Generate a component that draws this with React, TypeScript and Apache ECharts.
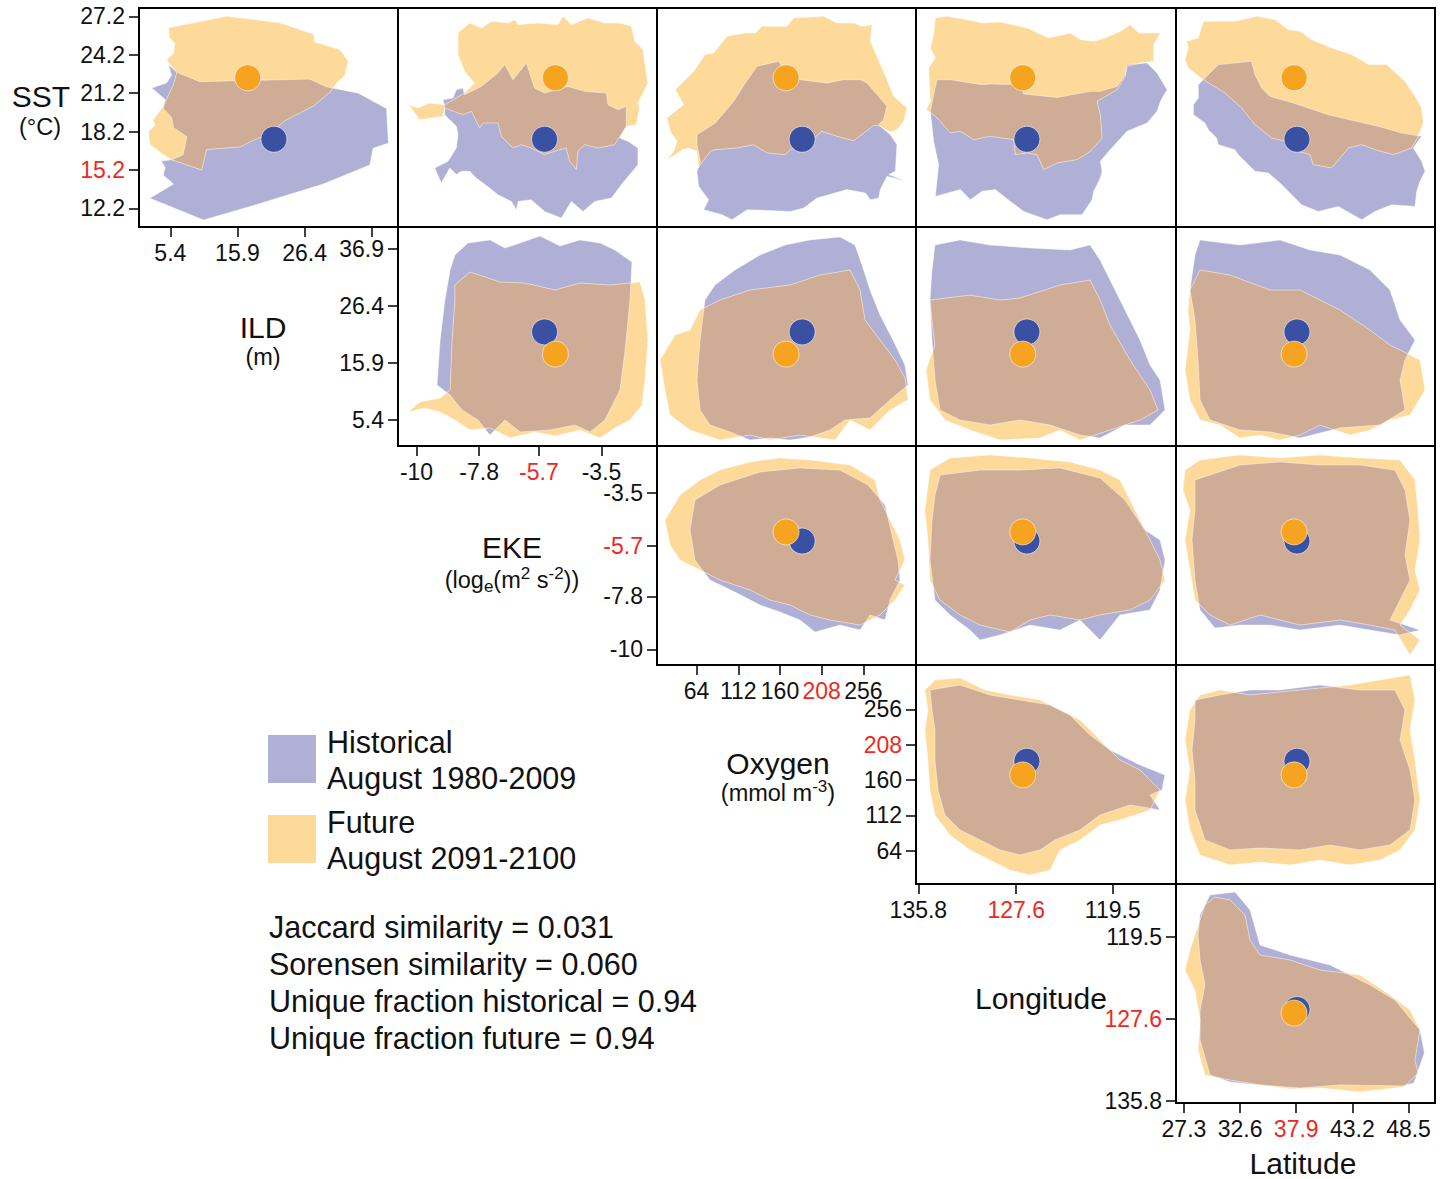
import React, { useEffect, useRef } from 'react';
import * as echarts from 'echarts';

type Pt = [number, number];

// ---------- variables (index: 0 SST, 1 ILD, 2 EKE, 3 Oxygen, 4 Longitude, 5 Latitude)
const VAR_NAMES = ['SST', 'ILD', 'EKE', 'Oxygen', 'Longitude', 'Latitude'];
const VAR_MIN = [10.75, 0.5, -10.65, 18.5, 114.2, 26.55];
const VAR_MAX = [27.85, 41.0, -1.55, 316.5, 136.0, 51.0];
const VAR_INVERSE = [false, false, false, false, true, false];

const sstTicks = [12.2, 15.2, 18.2, 21.2, 24.2, 27.2];
const ildTicks = [5.4, 15.9, 26.4, 36.9];
const ekeTicks = [-10, -7.8, -5.7, -3.5];
const oxyTicks = [64, 112, 160, 208, 256];
const lonTicks = [135.8, 127.6, 119.5];
const latTicks = [27.3, 32.6, 37.9, 43.2, 48.5];
const TICKS = [sstTicks, ildTicks, ekeTicks, oxyTicks, lonTicks, latTicks];
const ildXLabels = [5.4, 15.9, 26.4];
const X_LABELS = [sstTicks, ildXLabels, ekeTicks, oxyTicks, lonTicks, latTicks];
const Y_LABELS = TICKS;
const RED_TICKS: number[][] = [[15.2], [], [-5.7], [208], [127.6], [37.9]];

// centroids
const HIST_MEAN = [17.6, 21.6, -5.5, 185.5, 126.7, 37.97];
const FUT_MEAN = [22.4, 17.5, -5.12, 167.0, 127.05, 37.7];

// ---------- niche polygons, [x variable, y variable]
// row SST
const histSST_ILD: Pt[] = [[5.1,23.4],[6.6,22.8],[10.0,22.1],[27.2,22.3],[29.8,21.7],[34.8,21.2],[39.2,20.0],[39.5,17.3],[37.1,16.9],[36.6,15.6],[29.3,14.1],[18.9,12.5],[10.6,11.3],[2.2,13.0],[5.9,14.1],[4.3,14.8],[4.6,15.4],[4.0,15.9],[5.6,16.0],[7.4,16.4],[8.0,17.8],[5.9,18.5],[5.6,19.3],[4.3,20.0],[4.6,20.7],[2.5,21.6],[4.8,22.0],[5.6,22.6]];
const futSST_ILD: Pt[] = [[5.1,26.3],[14.2,27.2],[22.5,26.7],[27.8,25.8],[28.0,25.2],[31.9,24.6],[33.2,23.7],[32.7,22.6],[31.4,22.0],[30.4,21.3],[27.8,20.2],[23.1,19.0],[21.5,18.2],[17.9,17.4],[16.3,17.0],[11.1,16.8],[10.3,15.2],[5.6,16.0],[4.3,16.4],[2.2,17.2],[2.0,18.2],[3.0,18.7],[2.7,19.1],[4.3,20.2],[4.8,20.7],[5.9,21.9],[6.4,22.8],[5.1,23.6],[4.8,23.8],[5.9,24.3],[6.1,25.1],[5.3,25.5]];

const histSST_EKE: Pt[] = [[-9.07,20.69],[-8.72,20.82],[-8.6,21.47],[-8.37,21.6],[-8.31,21.08],[-7.72,21.73],[-7.14,22.77],[-6.9,23.43],[-6.61,22.25],[-6.14,23.56],[-5.85,21.6],[-5.5,21.21],[-4.68,21.73],[-4.09,21.34],[-3.33,21.21],[-3.27,20.3],[-2.92,19.91],[-2.63,20.17],[-2.63,18.61],[-2.86,17.7],[-2.57,17.44],[-2.22,16.92],[-2.22,15.62],[-2.8,14.06],[-3.15,13.01],[-3.74,12.75],[-4.15,11.97],[-4.56,12.75],[-4.91,11.45],[-5.5,11.97],[-5.97,12.88],[-6.43,12.75],[-6.49,12.1],[-6.67,12.75],[-7.14,13.27],[-7.43,13.79],[-7.9,14.58],[-8.13,15.1],[-8.43,15.1],[-8.6,14.84],[-8.83,15.36],[-9.13,14.19],[-9.36,15.36],[-8.89,15.88],[-8.6,16.92],[-8.54,17.96],[-8.6,18.61],[-9.01,19.52],[-9.01,20.17]];
const futSST_EKE: Pt[] = [[-8.54,25.9],[-8.13,26.68],[-7.72,26.29],[-7.37,26.81],[-6.78,26.68],[-6.55,26.94],[-6.43,26.55],[-5.73,26.68],[-5.03,26.55],[-4.85,27.2],[-4.56,26.55],[-3.97,27.07],[-3.39,26.68],[-2.86,26.68],[-2.45,26.42],[-2.33,25.25],[-2.04,24.6],[-1.98,23.56],[-1.87,21.99],[-2.22,20.43],[-2.16,20.04],[-2.28,18.74],[-2.63,18.61],[-3.04,17.18],[-3.62,16.92],[-4.09,17.18],[-4.33,16.66],[-4.38,15.23],[-4.62,15.88],[-4.74,16.92],[-5.15,16.66],[-5.5,16.4],[-5.97,16.92],[-6.32,17.18],[-6.61,16.92],[-6.78,17.31],[-7.02,17.83],[-7.14,18.87],[-7.66,18.87],[-7.78,18.48],[-8.07,19.78],[-8.37,19.52],[-9.01,20.04],[-9.07,19.39],[-9.48,19.26],[-9.89,19.13],[-10.18,20.04],[-10.3,20.3],[-9.95,20.04],[-9.54,20.43],[-9.01,20.3],[-8.31,21.21],[-7.96,21.99],[-8.31,22.9],[-8.54,24.21]];

const histSST_Oxy: Pt[] = [[64.5,17.96],[85.6,18.87],[106.7,20.56],[120.1,21.99],[133.6,23.3],[158.5,23.69],[166.2,22.77],[183.4,22.25],[214.1,21.99],[233.3,22.25],[252.4,22.25],[260.1,21.99],[273.5,20.95],[283.1,20.17],[279.3,19.13],[273.5,18.74],[287.0,17.96],[294.6,17.18],[292.7,15.1],[285.1,14.84],[304.2,14.32],[283.1,14.71],[275.5,13.67],[273.5,13.01],[264.0,12.88],[258.2,13.4],[237.1,13.67],[202.6,13.01],[187.3,12.23],[171.9,11.97],[122.1,12.1],[104.8,11.32],[93.3,11.71],[72.2,12.1],[77.9,12.88],[66.4,13.93],[64.5,15.1],[68.4,15.88],[64.5,17.18]];
const futSST_Oxy: Pt[] = [[30.0,19.26],[49.2,20.3],[39.6,21.47],[60.7,22.9],[74.1,24.21],[83.7,24.34],[99.0,25.64],[120.1,25.9],[131.6,25.9],[139.3,26.42],[168.1,26.42],[175.7,27.07],[210.3,27.2],[225.6,26.68],[244.8,26.68],[254.4,26.42],[265.9,26.55],[264.0,25.25],[271.6,24.08],[283.1,22.25],[290.8,20.95],[306.1,20.04],[302.3,19.0],[294.6,18.35],[287.0,18.17],[275.5,18.61],[267.8,18.69],[244.8,17.49],[225.6,17.83],[208.3,18.22],[194.9,17.44],[171.9,16.79],[166.2,16.4],[145.1,16.53],[129.7,17.18],[110.5,16.92],[85.6,16.79],[79.9,16.66],[68.4,15.62],[66.4,15.36],[64.5,16.66],[54.9,16.92],[47.3,16.79],[39.6,16.4],[30.0,16.01],[37.7,16.66],[41.5,17.44],[33.8,18.22]];

const histSST_Lon: Pt[] = [[134.24,22.25],[133.12,22.25],[130.46,21.86],[129.77,21.92],[127.25,21.86],[126.97,21.14],[124.18,20.87],[121.38,21.34],[120.54,21.34],[119.14,21.73],[118.45,22.64],[118.31,23.43],[116.63,23.56],[115.79,22.77],[114.95,21.47],[115.51,20.56],[115.79,19.78],[116.63,18.87],[118.31,18.22],[119.84,16.66],[120.54,15.88],[120.4,15.1],[120.54,14.58],[121.1,13.54],[121.24,12.88],[122.08,11.71],[123.9,11.71],[125.01,11.32],[126.97,11.97],[128.09,12.75],[129.35,13.67],[130.46,13.54],[131.44,12.88],[132.28,13.67],[134.38,13.14],[134.1,15.62],[134.52,17.44],[134.8,19.78],[134.52,21.08]];
const futSST_Lon: Pt[] = [[134.38,27.07],[133.4,27.2],[131.72,26.94],[130.46,26.68],[128.93,26.76],[126.69,26.29],[124.87,25.51],[123.06,25.9],[122.22,25.38],[121.1,25.25],[120.12,25.51],[118.86,26.03],[118.03,26.55],[117.33,25.9],[115.51,25.9],[116.07,24.99],[116.07,23.69],[117.19,23.56],[118.31,23.3],[118.45,22.51],[119.14,21.47],[120.82,20.56],[120.54,19.52],[120.4,17.7],[121.38,16.66],[122.5,16.01],[124.18,15.75],[125.29,15.23],[125.85,16.4],[126.69,16.53],[127.67,16.4],[127.81,17.57],[129.77,17.83],[131.16,17.57],[132.28,18.22],[133.12,18.09],[133.96,19.0],[134.52,19.52],[135.13,19.91],[134.8,20.56],[134.94,23.17],[134.38,23.95],[134.8,24.73],[134.52,25.77]];

const histSST_Lat: Pt[] = [[29.13,22.25],[30.55,23.43],[33.69,23.69],[34.01,22.64],[34.64,21.6],[35.42,20.95],[37.63,20.43],[40.93,19.52],[43.61,19.0],[45.65,18.61],[47.85,18.09],[49.74,17.83],[48.95,16.92],[49.74,15.88],[50.06,15.1],[49.58,14.32],[49.27,13.54],[49.11,12.36],[46.91,12.49],[45.34,11.97],[44.08,11.32],[41.87,12.36],[39.99,11.97],[38.41,12.49],[37.47,13.27],[36.53,14.06],[35.27,14.97],[34.01,15.1],[33.38,15.62],[32.43,16.4],[32.12,16.79],[30.55,17.18],[30.39,17.7],[29.6,18.35],[29.29,18.87],[28.19,19.52],[28.19,20.3],[28.66,20.82],[28.66,21.86]];
const futSST_Lat: Pt[] = [[27.56,25.25],[28.66,25.51],[29.13,26.81],[32.12,26.81],[34.17,27.2],[35.9,26.94],[37.15,26.16],[38.26,26.03],[39.36,25.38],[41.25,24.73],[43.13,24.21],[44.71,23.43],[46.44,23.43],[48.17,22.12],[49.11,20.95],[49.74,20.04],[49.9,18.87],[49.43,17.83],[48.8,16.92],[47.07,16.4],[45.34,16.79],[44.08,17.18],[42.82,16.92],[41.25,15.36],[39.51,15.62],[39.2,16.4],[38.1,16.66],[36.84,17.44],[35.58,17.7],[34.01,18.74],[32.75,20.04],[31.18,21.21],[29.13,22.25],[27.71,23.17],[27.4,23.82],[27.71,24.73]];

// row ILD
const histILD_EKE: Pt[] = [[-8.65,35.82],[-8.19,38.04],[-7.42,38.6],[-6.89,37.12],[-6.36,38.04],[-5.66,39.34],[-4.96,37.49],[-4.26,38.6],[-3.55,38.04],[-3.03,36.75],[-2.43,34.53],[-2.5,27.5],[-2.67,18.25],[-2.85,10.86],[-3.38,5.31],[-3.9,3.09],[-4.43,4.38],[-5.31,3.46],[-6.36,3.09],[-6.89,5.31],[-7.42,2.53],[-7.84,5.31],[-8.4,7.16],[-8.82,9.93],[-9.28,11.78],[-9.17,20.1],[-9.0,27.5],[-8.82,33.05]];
const futILD_EKE: Pt[] = [[-8.65,30.27],[-8.12,32.68],[-7.07,30.83],[-6.19,30.64],[-5.13,29.35],[-4.26,30.64],[-3.2,30.27],[-2.15,30.83],[-1.97,27.5],[-1.87,20.1],[-1.97,12.71],[-2.08,8.08],[-2.5,5.31],[-3.03,3.83],[-3.55,1.98],[-4.26,3.46],[-5.13,2.35],[-5.84,3.09],[-6.7,1.98],[-7.42,3.83],[-8.12,3.46],[-8.65,5.31],[-9.17,6.79],[-9.7,7.53],[-10.3,6.79],[-9.88,8.64],[-9.17,9.38],[-8.82,10.86],[-8.75,20.1],[-8.65,27.5]];

const histILD_Oxy: Pt[] = [[73.7,27.5],[85.2,30.27],[108.2,33.05],[137.0,35.82],[165.8,37.67],[194.5,38.6],[229.1,39.15],[246.3,37.67],[254.4,33.97],[263.6,29.35],[275.1,24.73],[290.0,20.1],[303.8,15.48],[307.3,11.78],[286.6,9.01],[263.6,5.68],[234.8,5.31],[217.6,3.46],[194.5,2.16],[171.5,1.61],[148.5,1.98],[125.5,1.61],[102.5,3.09],[79.5,4.38],[68.0,7.16],[64.5,12.71],[68.0,20.1]];
const futILD_Oxy: Pt[] = [[39.2,21.03],[56.5,21.95],[68.0,25.65],[91.0,27.5],[125.5,29.35],[171.5,30.27],[206.0,32.12],[240.6,33.05],[252.1,29.35],[257.8,23.8],[275.1,20.1],[292.3,16.4],[303.8,13.08],[307.3,9.01],[286.6,7.16],[263.6,3.46],[240.6,5.31],[223.3,1.61],[183.0,2.53],[148.5,1.61],[125.5,2.53],[91.0,1.61],[56.5,3.46],[33.5,6.23],[27.7,10.86],[21.95,16.4]];

const histILD_Lon: Pt[] = [[134.41,37.67],[132.31,38.6],[129.8,37.67],[126.44,37.12],[123.09,36.75],[121.41,37.67],[120.57,34.9],[119.73,31.2],[118.48,25.65],[117.22,20.1],[116.38,15.48],[115.54,12.71],[115.12,7.16],[116.38,4.38],[118.48,4.38],[120.57,1.98],[122.25,2.53],[124.76,4.38],[127.28,5.31],[129.8,4.38],[132.31,5.31],[133.99,7.16],[134.41,12.71],[134.66,20.1],[134.83,27.5],[134.66,33.05]];
const futILD_Lon: Pt[] = [[134.83,27.5],[131.47,28.4],[128.96,27.5],[127.28,27.87],[123.93,30.27],[121.41,31.2],[120.57,27.5],[119.73,22.88],[118.06,16.4],[116.38,10.86],[115.71,7.16],[117.22,5.31],[119.73,3.46],[122.25,1.61],[123.93,3.46],[125.6,1.98],[128.96,1.61],[131.47,3.46],[133.57,5.31],[134.83,9.01],[135.16,14.56],[134.41,19.18],[134.66,23.8]];

const histILD_Lat: Pt[] = [[28.34,35.82],[28.82,38.6],[32.59,37.67],[36.37,38.6],[39.2,36.75],[42.03,35.82],[44.86,33.05],[46.75,29.35],[47.7,23.8],[49.11,20.1],[48.17,16.4],[47.7,12.71],[48.17,7.16],[45.81,4.38],[42.03,3.83],[38.26,1.98],[35.42,3.09],[32.59,3.46],[29.76,5.31],[28.82,9.01],[28.63,16.4],[28.34,23.8],[27.87,29.35]];
const futILD_Lat: Pt[] = [[27.87,29.35],[28.82,33.05],[31.65,32.12],[35.42,29.35],[38.26,29.35],[42.03,25.65],[44.86,21.95],[46.75,19.18],[49.58,16.4],[50.06,10.86],[48.64,6.23],[46.75,5.31],[44.86,3.46],[42.98,2.53],[40.14,4.38],[38.26,2.53],[36.37,1.61],[34.48,2.53],[32.59,1.98],[30.7,4.38],[28.82,5.31],[27.87,9.01],[27.4,14.56],[27.87,21.95],[27.68,25.65]];

// row EKE
const histEKE_Oxy: Pt[] = [[62.2,-3.79],[91.0,-3.17],[137.0,-2.63],[183.0,-2.46],[229.1,-2.55],[261.3,-3.17],[280.8,-4.0],[288.9,-5.25],[295.8,-6.29],[298.1,-7.12],[286.6,-7.95],[280.8,-8.78],[263.6,-8.57],[252.1,-9.2],[229.1,-8.99],[200.3,-9.28],[183.0,-8.78],[160.0,-8.45],[137.0,-8.16],[108.2,-7.62],[79.5,-7.12],[62.2,-6.29],[56.5,-5.04]];
const futEKE_Oxy: Pt[] = [[27.7,-4.63],[45.0,-3.59],[68.0,-2.96],[91.0,-2.55],[125.5,-2.21],[160.0,-2.05],[194.5,-2.13],[240.6,-2.34],[269.3,-2.96],[275.1,-3.79],[286.6,-4.63],[298.1,-5.46],[303.8,-6.29],[292.3,-7.12],[303.8,-7.33],[292.3,-7.95],[275.1,-8.57],[263.6,-8.78],[252.1,-8.99],[217.6,-8.78],[194.5,-8.57],[171.5,-8.16],[148.5,-7.95],[125.5,-7.53],[91.0,-7.12],[68.0,-6.7],[45.0,-6.29],[33.5,-5.66]];

const histEKE_Lon: Pt[] = [[133.99,-2.76],[130.63,-2.55],[127.28,-2.55],[123.93,-2.46],[120.57,-2.88],[118.48,-3.79],[116.8,-5.04],[115.54,-5.46],[115.12,-6.29],[115.54,-7.53],[116.38,-8.36],[118.9,-8.57],[120.57,-9.61],[122.25,-8.78],[123.93,-9.2],[126.44,-8.99],[128.96,-9.4],[130.63,-9.61],[131.47,-9.2],[133.15,-8.57],[134.41,-7.95],[134.83,-6.29],[134.66,-4.63],[134.41,-3.59]];
const futEKE_Lon: Pt[] = [[134.83,-2.55],[133.15,-2.05],[129.8,-1.92],[126.44,-2.05],[123.09,-2.21],[120.57,-2.55],[118.9,-2.96],[118.06,-3.79],[117.22,-4.63],[116.38,-5.46],[115.54,-6.29],[115.12,-7.12],[116.38,-7.95],[118.06,-8.36],[120.57,-8.57],[122.25,-8.78],[124.76,-8.57],[126.44,-8.78],[128.12,-9.28],[130.63,-8.99],[132.31,-8.57],[133.99,-7.95],[134.83,-7.12],[135.0,-5.46],[135.25,-4.21]];

const histEKE_Lat: Pt[] = [[28.34,-2.96],[32.59,-2.34],[36.37,-2.21],[40.14,-2.34],[43.92,-2.34],[47.22,-2.55],[48.17,-3.38],[48.64,-4.63],[48.17,-6.08],[48.64,-7.12],[47.7,-7.95],[46.75,-8.78],[49.58,-9.2],[47.7,-9.4],[44.86,-9.2],[42.03,-8.99],[38.26,-9.2],[35.42,-8.99],[32.59,-8.99],[30.23,-9.11],[28.82,-8.36],[28.34,-7.12],[28.06,-5.46],[28.34,-4.21]];
const futEKE_Lat: Pt[] = [[27.4,-2.55],[28.82,-2.13],[32.59,-1.92],[36.37,-2.05],[40.14,-1.92],[43.92,-2.05],[47.7,-2.13],[49.11,-2.96],[49.39,-4.21],[49.58,-5.46],[49.11,-6.7],[49.58,-7.53],[48.64,-8.36],[47.7,-8.99],[49.58,-9.61],[48.64,-10.23],[47.22,-9.2],[44.86,-8.99],[42.03,-8.78],[38.26,-8.99],[34.48,-8.57],[31.65,-8.99],[29.76,-8.57],[28.34,-7.95],[27.87,-6.7],[27.4,-5.46],[27.87,-4.21],[27.21,-3.38]];

// row Oxygen
const histOxy_Lon: Pt[] = [[134.83,282.5],[132.31,289.3],[129.8,275.7],[127.28,268.9],[124.76,262.1],[123.09,248.5],[121.41,221.3],[119.73,200.8],[117.22,180.4],[115.12,166.8],[115.38,146.4],[116.38,139.6],[115.54,119.2],[118.06,126.0],[120.57,112.4],[122.25,92.0],[124.35,78.4],[125.6,64.8],[127.28,58.0],[128.96,64.8],[130.63,78.4],[132.31,92.0],[133.57,112.4],[134.16,146.4],[134.41,187.2],[134.41,228.1],[134.66,255.3]];
const futOxy_Lon: Pt[] = [[135.25,282.5],[134.41,296.1],[132.31,298.8],[130.21,282.5],[128.12,275.7],[125.6,268.9],[123.93,255.3],[122.25,241.7],[120.57,214.4],[118.9,187.2],[117.22,173.6],[115.54,146.4],[116.38,119.2],[118.9,105.6],[120.57,98.8],[122.25,78.4],[123.93,64.8],[124.76,37.5],[126.44,30.7],[128.12,37.5],[129.8,51.2],[131.47,64.8],[133.15,85.2],[134.41,112.4],[134.83,146.4],[135.0,187.2],[135.25,228.1],[135.0,255.3]];

const histOxy_Lat: Pt[] = [[28.34,268.9],[30.7,275.7],[33.54,282.5],[36.37,282.5],[40.14,289.3],[43.92,282.5],[47.22,282.5],[48.17,255.3],[47.7,214.4],[48.64,173.6],[49.11,132.8],[48.64,92.0],[46.75,71.6],[43.92,64.8],[41.09,71.6],[38.26,64.8],[34.48,67.5],[31.65,64.8],[29.29,78.4],[28.34,119.2],[28.34,160.0],[28.06,200.8],[28.34,241.7]];
const futOxy_Lat: Pt[] = [[27.87,255.3],[28.82,275.7],[30.7,282.5],[33.54,275.7],[38.26,282.5],[42.98,289.3],[45.81,296.1],[48.64,302.9],[49.11,268.9],[48.64,228.1],[49.11,187.2],[49.58,132.8],[49.11,92.0],[47.7,64.8],[45.81,51.2],[42.98,44.4],[40.14,51.2],[37.31,44.4],[34.48,48.4],[31.65,44.4],[28.82,58.0],[27.87,92.0],[27.4,132.8],[27.87,173.6],[27.4,214.4]];

// row Longitude
const histLon_Lat: Pt[] = [[28.82,117.29],[29.76,115.3],[32.12,115.0],[33.54,116.79],[34.48,120.27],[37.31,121.27],[41.09,122.26],[44.86,124.25],[47.22,125.75],[49.58,128.73],[50.0,131.0],[49.0,134.0],[47.9,134.3],[42.03,134.2],[38.26,134.51],[34.48,134.21],[31.65,133.91],[29.76,133.21],[28.82,129.73],[28.82,126.74],[29.29,124.25],[28.82,121.76],[28.63,119.28]];
const futLon_Lat: Pt[] = [[28.34,119.28],[29.29,116.29],[30.23,115.49],[31.65,115.79],[33.06,117.29],[33.54,119.77],[34.48,121.27],[37.31,121.76],[40.14,122.76],[43.92,123.26],[46.75,125.25],[48.64,126.74],[49.58,128.73],[49.11,131.72],[49.4,133.0],[48.07,134.4],[43.92,134.9],[40.14,134.5],[37.31,134.6],[34.48,134.2],[31.65,133.71],[29.29,133.21],[28.63,130.72],[28.82,127.74],[28.34,124.75],[27.4,122.76],[27.87,120.77]];

const LEGEND_LABELS = ['Historical', 'August 1980-2009', 'Future', 'August 2091-2100'];
const STATS_LINES = [
  'Jaccard similarity = 0.031',
  'Sorensen similarity = 0.060',
  'Unique fraction historical = 0.94',
  'Unique fraction future = 0.94',
];

// ---------- layout / style
const COL_X = [139, 398, 657, 916, 1176, 1435];
const ROW_Y = [8, 227, 446, 665, 884, 1103];
const FONT = "'Liberation Sans', Arial, Helvetica, sans-serif";
const BLUE_FILL = '#b0afd6';
const ORANGE_FILL = '#fdd99a';
const OVERLAP_FILL = '#cfac96';
const HIST_DOT = '#3a51a3';
const FUT_DOT = '#f6a31f';
const RED = '#ec2a22';
const TICK_FONT = 23;
const BIG_FONT = 30;
const UNIT_FONT = 23.5;
const LEGEND_FONT = 30.5;

const PANELS: { r: number; c: number; hist: Pt[]; fut: Pt[] }[] = [
  { r: 0, c: 0, hist: histSST_ILD, fut: futSST_ILD },
  { r: 0, c: 1, hist: histSST_EKE, fut: futSST_EKE },
  { r: 0, c: 2, hist: histSST_Oxy, fut: futSST_Oxy },
  { r: 0, c: 3, hist: histSST_Lon, fut: futSST_Lon },
  { r: 0, c: 4, hist: histSST_Lat, fut: futSST_Lat },
  { r: 1, c: 1, hist: histILD_EKE, fut: futILD_EKE },
  { r: 1, c: 2, hist: histILD_Oxy, fut: futILD_Oxy },
  { r: 1, c: 3, hist: histILD_Lon, fut: futILD_Lon },
  { r: 1, c: 4, hist: histILD_Lat, fut: futILD_Lat },
  { r: 2, c: 2, hist: histEKE_Oxy, fut: futEKE_Oxy },
  { r: 2, c: 3, hist: histEKE_Lon, fut: futEKE_Lon },
  { r: 2, c: 4, hist: histEKE_Lat, fut: futEKE_Lat },
  { r: 3, c: 3, hist: histOxy_Lon, fut: futOxy_Lon },
  { r: 3, c: 4, hist: histOxy_Lat, fut: futOxy_Lat },
  { r: 4, c: 4, hist: histLon_Lat, fut: futLon_Lat },
];

function isRed(v: number, val: any) {
  const n = Number(val);
  return RED_TICKS[v].some((t) => Math.abs(t - n) < 1e-6);
}

function makeAxis(v: number, k: number, diag: boolean, dim: 'x' | 'y') {
  return {
    type: 'value',
    gridIndex: k,
    min: VAR_MIN[v],
    max: VAR_MAX[v],
    inverse: VAR_INVERSE[v],
    show: diag,
    axisLine: { show: false },
    splitLine: { show: false },
    axisTick: {
      show: diag,
      inside: false,
      length: 10,
      customValues: TICKS[v],
      lineStyle: { color: '#000', width: 1.5 },
    },
    axisLabel: {
      show: diag,
      customValues: dim === 'x' ? X_LABELS[v] : Y_LABELS[v],
      margin: dim === 'x' ? 17 : 14,
      fontSize: TICK_FONT,
      lineHeight: 18,
      fontFamily: FONT,
      color: (val: any) => (isRed(v, val) ? RED : '#111'),
      formatter: (val: any) => String(val),
    },
  };
}

function txt(text: string, x: number, y: number, size: number, align = 'center') {
  return {
    type: 'text',
    silent: true,
    style: {
      text,
      x,
      y,
      fontSize: size,
      fontFamily: FONT,
      fill: '#111',
      textAlign: align,
      textVerticalAlign: 'middle',
    },
  };
}

function richTxt(text: string, x: number, y: number) {
  return {
    type: 'text',
    silent: true,
    style: {
      text,
      x,
      y,
      textAlign: 'center',
      textVerticalAlign: 'middle',
      fill: '#111',
      rich: {
        n: { fontSize: UNIT_FONT, fontFamily: FONT, lineHeight: 30, verticalAlign: 'middle', fill: '#111' },
        sup: { fontSize: 17, fontFamily: FONT, lineHeight: 18, verticalAlign: 'top', fill: '#111' },
        sub: { fontSize: 17, fontFamily: FONT, lineHeight: 18, verticalAlign: 'bottom', fill: '#111' },
      },
    },
  };
}

function buildOption() {
  const grid: any[] = [];
  const xAxis: any[] = [];
  const yAxis: any[] = [];
  const series: any[] = [];
  PANELS.forEach((p, k) => {
    const xv = p.c + 1;
    const yv = p.r;
    const diag = p.r === p.c;
    grid.push({
      left: COL_X[p.c],
      top: ROW_Y[p.r],
      width: COL_X[p.c + 1] - COL_X[p.c],
      height: ROW_Y[p.r + 1] - ROW_Y[p.r],
      show: true,
      borderColor: '#000',
      borderWidth: 2,
      backgroundColor: 'transparent',
    });
    xAxis.push(makeAxis(xv, k, diag, 'x'));
    yAxis.push(makeAxis(yv, k, diag, 'y'));
    const hist = p.hist;
    const fut = p.fut;
    series.push({
      type: 'custom',
      xAxisIndex: k,
      yAxisIndex: k,
      silent: true,
      clip: false,
      z: 2,
      data: [hist[0]],
      renderItem: (params: any, api: any) => {
        const h = hist.map((pt) => api.coord(pt));
        const f = fut.map((pt) => api.coord(pt));
        return {
          type: 'group',
          children: [
            { type: 'polygon', shape: { points: h }, style: { fill: BLUE_FILL, stroke: null } },
            { type: 'polygon', shape: { points: f }, style: { fill: ORANGE_FILL, stroke: null } },
            {
              type: 'polygon',
              shape: { points: h },
              style: { fill: OVERLAP_FILL, stroke: null },
              clipPath: { type: 'polygon', shape: { points: f } },
            },
            { type: 'polygon', shape: { points: h }, style: { fill: 'none', stroke: 'rgba(255,255,255,0.45)', lineWidth: 1 } },
            { type: 'polygon', shape: { points: f }, style: { fill: 'none', stroke: 'rgba(255,255,255,0.45)', lineWidth: 1 } },
          ],
        };
      },
    });
    series.push({
      type: 'scatter',
      xAxisIndex: k,
      yAxisIndex: k,
      silent: true,
      z: 5,
      symbolSize: 26,
      itemStyle: { borderColor: 'rgba(255,255,255,0.55)', borderWidth: 1, opacity: 1 },
      data: [
        { value: [HIST_MEAN[xv], HIST_MEAN[yv]], itemStyle: { color: HIST_DOT } },
        { value: [FUT_MEAN[xv], FUT_MEAN[yv]], itemStyle: { color: FUT_DOT } },
      ],
    });
  });

  const graphic: any[] = [
    txt(VAR_NAMES[0], 41, 96, BIG_FONT),
    txt('(°C)', 40, 127, UNIT_FONT),
    txt(VAR_NAMES[1], 263, 327, BIG_FONT),
    txt('(m)', 263, 357, UNIT_FONT),
    txt(VAR_NAMES[2], 512, 547, BIG_FONT),
    richTxt('{n|(log}{sub|e}{n|(m}{sup|2}{n| s}{sup|-2}{n|))}', 512, 580),
    txt(VAR_NAMES[3], 778, 763, BIG_FONT),
    richTxt('{n|(mmol m}{sup|-3}{n|)}', 778, 793),
    txt(VAR_NAMES[4], 1041, 998, BIG_FONT),
    txt(VAR_NAMES[5], 1303, 1163, BIG_FONT),
    { type: 'rect', silent: true, shape: { x: 268, y: 735, width: 48, height: 48 }, style: { fill: BLUE_FILL } },
    { type: 'rect', silent: true, shape: { x: 268, y: 815, width: 48, height: 48 }, style: { fill: ORANGE_FILL } },
    txt(LEGEND_LABELS[0], 327, 742, LEGEND_FONT, 'left'),
    txt(LEGEND_LABELS[1], 327, 778, LEGEND_FONT, 'left'),
    txt(LEGEND_LABELS[2], 327, 822, LEGEND_FONT, 'left'),
    txt(LEGEND_LABELS[3], 327, 858, LEGEND_FONT, 'left'),
    ...STATS_LINES.map((s, i) => txt(s, 269, 927 + i * 37, LEGEND_FONT, 'left')),
  ];

  return {
    animation: false,
    backgroundColor: '#fff',
    grid,
    xAxis,
    yAxis,
    series,
    graphic: { elements: graphic },
  };
}

export default function App() {
  const ref = useRef<HTMLDivElement>(null);
  useEffect(() => {
    if (!ref.current) return;
    const chart = echarts.init(ref.current, undefined, { renderer: 'svg' });
    chart.setOption(buildOption() as any);
    return () => chart.dispose();
  }, []);
  return (
    <div
      ref={ref}
      style={{ position: 'absolute', left: 0, top: 0, width: 1447, height: 1179 }}
    />
  );
}
